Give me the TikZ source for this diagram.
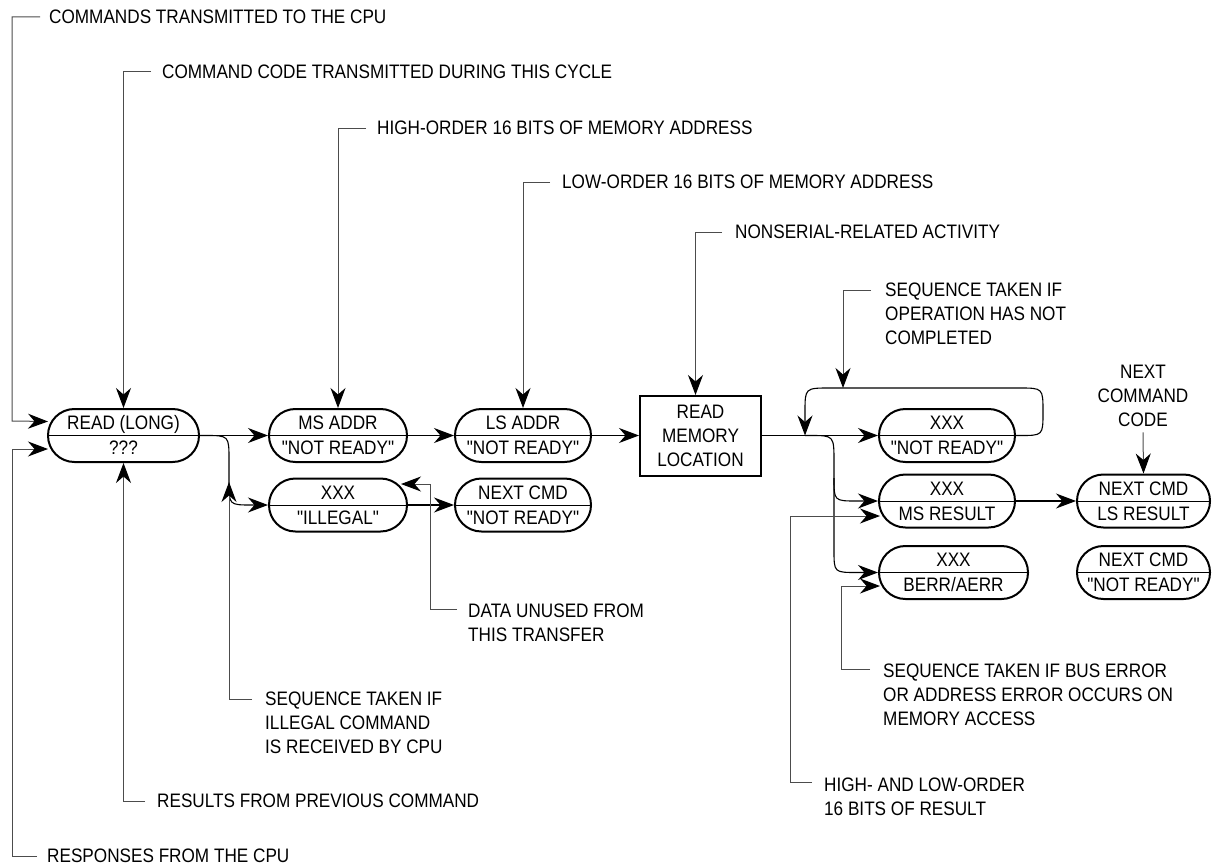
\documentclass[tikz,border=0pt]{standalone}
\usepackage{fontspec}
\setmainfont{Liberation Sans}[FakeStretch=0.88, Ligatures=TeXOff]
\usetikzlibrary{arrows.meta,calc}
\begin{document}
\begin{tikzpicture}[x=1pt,y=-1pt,
  every node/.style={font=\fontsize{19.5}{23.7}\selectfont, inner sep=0pt},
  stad/.style={draw, line width=2pt, rounded corners=26.4pt, minimum height=53pt},
  boxnode/.style={draw, line width=2pt, minimum width=121pt, minimum height=80pt, align=center},
  div/.style={line width=1pt},
  txt/.style={anchor=center, text height=13.96pt, text depth=0pt},
  lbl/.style={anchor=west, text height=13.96pt, text depth=0pt},
  mlbl/.style={anchor=north west, align=left},
  tip/.style={-{Stealth[length=20pt,width=15pt,inset=6.5pt,color=black]}},
  flow/.style={tip, line width=1.1pt, black},
  ptr/.style={tip, line width=1pt, black!70}]
\useasboundingbox (0,0) rectangle (1213,867);

% ---- stadium nodes ----
\node[stad, minimum width=151pt] (read) at (123.5,435.5) {};
\node[stad, minimum width=138pt] (msaddr) at (338,435.5) {};
\node[stad, minimum width=136pt] (lsaddr) at (523,435.5) {};
\node[stad, minimum width=138pt] (illegal) at (338,505) {};
\node[stad, minimum width=136pt] (nextcmd) at (523,505) {};
\node[stad, minimum width=136pt] (xnr) at (947,435.5) {};
\node[stad, minimum width=136pt] (xms) at (947,501) {};
\node[stad, minimum width=149pt] (xberr) at (953.5,572.5) {};
\node[stad, minimum width=133pt] (ncls) at (1143.5,501) {};
\node[stad, minimum width=133pt] (ncnr) at (1143.5,572.5) {};
\node[boxnode] (rml) at (700.5,436) {READ\\MEMORY\\LOCATION};

\foreach \n in {read,msaddr,lsaddr,illegal,nextcmd,xnr,xms,xberr,ncls,ncnr}
  \draw[div] (\n.west) -- (\n.east);

% ---- node texts ----
\node[txt] (read-a) at ($(read.center)+(0,-12.5)$) {READ (LONG)};
\node[txt] (read-b) at ($(read.center)+(0,12.5)$) {???};
\node[txt] (msaddr-a) at ($(msaddr.center)+(0,-12.5)$) {MS ADDR};
\node[txt] (msaddr-b) at ($(msaddr.center)+(0,12.5)$) {"NOT READY"};
\node[txt] (lsaddr-a) at ($(lsaddr.center)+(0,-12.5)$) {LS ADDR};
\node[txt] (lsaddr-b) at ($(lsaddr.center)+(0,12.5)$) {"NOT READY"};
\node[txt] (illegal-a) at ($(illegal.center)+(0,-12.5)$) {XXX};
\node[txt] (illegal-b) at ($(illegal.center)+(0,12.5)$) {"ILLEGAL"};
\node[txt] (nextcmd-a) at ($(nextcmd.center)+(0,-12.5)$) {NEXT CMD};
\node[txt] (nextcmd-b) at ($(nextcmd.center)+(0,12.5)$) {"NOT READY"};
\node[txt] (xnr-a) at ($(xnr.center)+(0,-12.5)$) {XXX};
\node[txt] (xnr-b) at ($(xnr.center)+(0,12.5)$) {"NOT READY"};
\node[txt] (xms-a) at ($(xms.center)+(0,-12.5)$) {XXX};
\node[txt] (xms-b) at ($(xms.center)+(0,12.5)$) {MS RESULT};
\node[txt] (xberr-a) at ($(xberr.center)+(0,-12.5)$) {XXX};
\node[txt] (xberr-b) at ($(xberr.center)+(0,12.5)$) {BERR/AERR};
\node[txt] (ncls-a) at ($(ncls.center)+(0,-12.5)$) {NEXT CMD};
\node[txt] (ncls-b) at ($(ncls.center)+(0,12.5)$) {LS RESULT};
\node[txt] (ncnr-a) at ($(ncnr.center)+(0,-12.5)$) {NEXT CMD};
\node[txt] (ncnr-b) at ($(ncnr.center)+(0,12.5)$) {"NOT READY"};

% ---- labels ----
\node[lbl] (l1) at (49,17) {COMMANDS TRANSMITTED TO THE CPU};
\node[lbl] (l2) at (162,72) {COMMAND CODE TRANSMITTED DURING THIS CYCLE};
\node[lbl] (l3) at (377,128) {HIGH-ORDER 16 BITS OF MEMORY ADDRESS};
\node[lbl] (l4) at (562,182) {LOW-ORDER 16 BITS OF MEMORY ADDRESS};
\node[lbl] (l5) at (735,232) {NONSERIAL-RELATED ACTIVITY};
\node[mlbl] (l6) at (885,283) {SEQUENCE TAKEN IF\\OPERATION HAS NOT\\COMPLETED};
\node[anchor=north, align=center] (ncc) at (1143,365) {NEXT\\COMMAND\\CODE};
\node[mlbl] (l8) at (468,604) {DATA UNUSED FROM\\THIS TRANSFER};
\node[mlbl] (l9) at (265,692) {SEQUENCE TAKEN IF\\ILLEGAL COMMAND\\IS RECEIVED BY CPU};
\node[mlbl] (l10) at (883,664) {SEQUENCE TAKEN IF BUS ERROR\\OR ADDRESS ERROR OCCURS ON\\MEMORY ACCESS};
\node[mlbl] (l11) at (824,778) {HIGH- AND LOW-ORDER\\16 BITS OF RESULT};
\node[lbl] (l12) at (157,801) {RESULTS FROM PREVIOUS COMMAND};
\node[lbl] (l13) at (47,856) {RESPONSES FROM THE CPU};

% ---- flow connectors ----
\coordinate (J) at (805,435.5);
\coordinate (looptop) at (843,388);
\coordinate (c1) at (229,482);
\draw[flow] (read.east) -- (msaddr.west);
\draw[flow] (msaddr.east) -- (lsaddr.west);
\draw[flow] (lsaddr.east) -- (lsaddr.east -| rml.west);
\draw[flow] (rml.east |- xnr.west) -- (xnr.west);
\draw[flow] (read.east) -- ++(5,0) .. controls (229,435.5) .. (229,460) -- (c1)
   .. controls (229,505) .. (252,505) -- (illegal.west);
\draw[flow] (illegal.east) -- (nextcmd.west);
\draw[flow] (J) -- ++(5,0) .. controls (834,435.5) .. (834,462) -- (834,478)
   .. controls (834,501) .. (857,501) -- (xms.west);
\draw[flow] (834,478) -- (834,550) .. controls (834,572.5) .. (857,572.5) -- (xberr.west);
\draw[flow] (xms.east) -- (ncls.west);
\draw[flow] (xnr.east) -- ++(4,0) .. controls (1043,435.5) .. (1043,412)
   .. controls (1043,388) .. (1019,388) -- (830,388) .. controls (805,388) .. (805,412) -- (J);

% ---- pointer leaders ----
\draw[ptr] ([xshift=-9pt]l1.west) -| (12,421) -- ($(read.west)+(1,-14)$);
\draw[ptr] ([xshift=-10pt]l13.west) -| (12,449) -- ($(read.west)+(1,13.5)$);
\draw[ptr] ([xshift=-11pt]l2.west) -| (read.north);
\draw[ptr] ([xshift=-12pt]l12.west) -| (read.south);
\draw[ptr] ([xshift=-11pt]l3.west) -| (msaddr.north);
\draw[ptr] ([xshift=-12pt]l4.west) -| (lsaddr.north);
\draw[ptr] ([xshift=-13pt]l5.west) -| ([xshift=-5pt]rml.north);
\draw[ptr] ($(l6.north west)+(-14,7)$) -| (looptop);
\draw[ptr] ($(l8.north west)+(-11,5)$) -| (430,484) -- ($(illegal.east)+(-7,-21)$);
\draw[ptr] ($(l9.north west)+(-13,7)$) -| (c1);
\draw[ptr] ($(l10.north west)+(-13,5)$) -| (841,586) -- ($(xberr.west)+(2,13.5)$);
\draw[ptr] ($(l11.north west)+(-12,4)$) -| (790,516) -- ($(xms.west)+(2,15)$);
\draw[ptr] ([yshift=-6pt]ncc.south) -- (ncls.north);
\end{tikzpicture}
\end{document}
